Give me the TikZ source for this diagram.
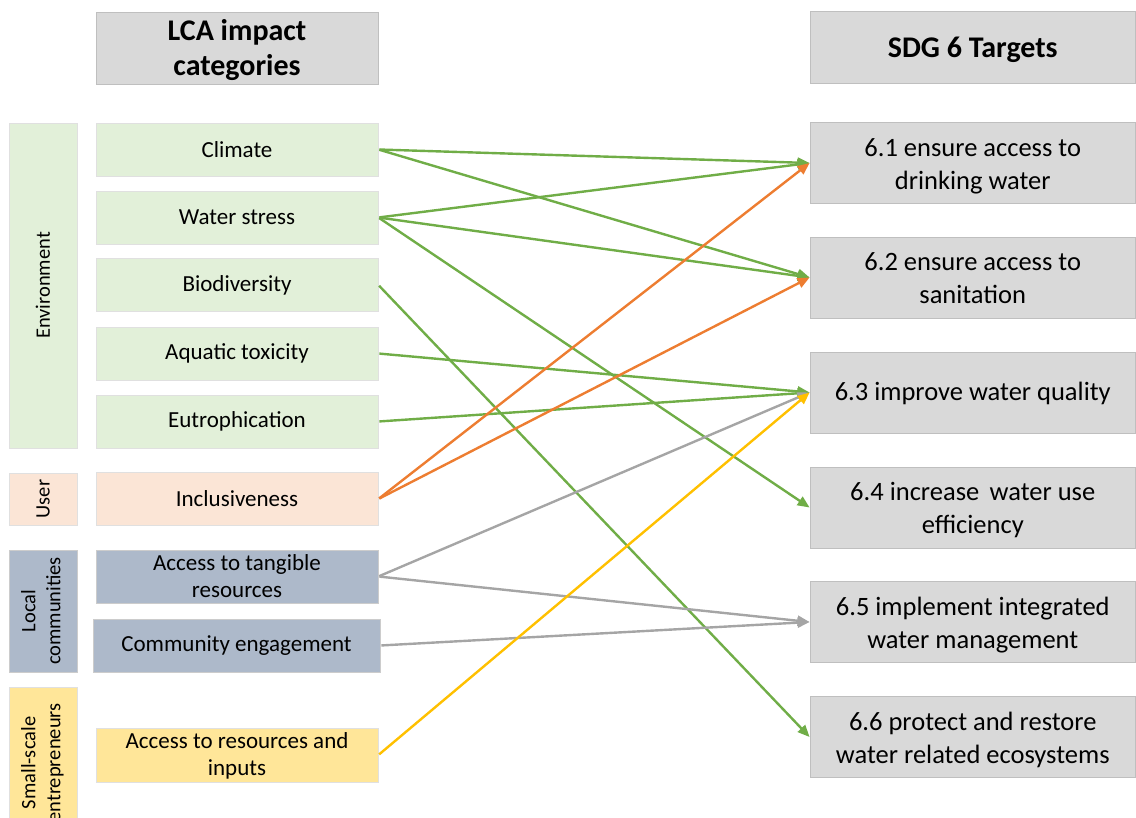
\documentclass[tikz,border=0pt]{standalone}
\usepackage{fontspec}
\setmainfont{Carlito}
\usetikzlibrary{arrows.meta}
\definecolor{grn}{HTML}{70AD47}
\definecolor{org}{HTML}{ED7D31}
\definecolor{gry}{HTML}{A5A5A5}
\definecolor{ylw}{HTML}{FFC000}
\definecolor{fgrn}{HTML}{E2F0D9}
\definecolor{forg}{HTML}{FBE5D6}
\definecolor{fblu}{HTML}{ADB9CA}
\definecolor{fylw}{HTML}{FFE699}
\definecolor{fgry}{HTML}{D9D9D9}
\newcommand{\dn}[2]{\raisebox{-#1}[\height][\depth]{\begin{tabular}{@{}c@{}}#2\end{tabular}}}
\begin{document}
\begin{tikzpicture}[x=1pt,y=-1pt,
  box/.style={rectangle,inner sep=0pt,align=center,line width=0.8pt},
  gbox/.style={box,fill=fgrn,draw=black!12},
  obox/.style={box,fill=forg,draw=black!12},
  bbox/.style={box,fill=fblu,draw=black!20},
  ybox/.style={box,fill=fylw,draw=black!12},
  hbox/.style={box,fill=fgry,draw=black!25},
  mid/.style={minimum width=282pt,minimum height=53pt,font=\fontsize{23}{27}\selectfont},
  tgt/.style={hbox,minimum width=325.5pt,minimum height=81pt,font=\fontsize{26.5}{33}\selectfont},
  head/.style={hbox,minimum height=72pt,font=\bfseries\fontsize{30}{36}\selectfont},
  cat/.style={minimum width=68pt,font=\fontsize{20.5}{25}\selectfont},
  arr/.style={line width=2.4pt,-{Triangle[length=12pt,width=10pt]},shorten <=1pt}
]
\useasboundingbox (0,0) rectangle (1136,818);
% headers
\node[head,minimum width=282pt] (hl) at (237,48) {\dn{3pt}{LCA impact\\[-1pt]categories}};
\node[head,minimum width=325.5pt] (hr) at (972.75,47.5) {\dn{3pt}{SDG 6 Targets}};
% category boxes
\node[gbox,cat,minimum height=325pt] (env) at (43,285.5) {\rotatebox{90}{Environment}};
\node[obox,cat,minimum height=52pt] (usr) at (43,499) {\rotatebox{90}{User}};
\node[bbox,cat,minimum height=122pt] (loc) at (43,611) {\rotatebox{90}{\begin{tabular}{c}Local\\communities\end{tabular}}};
\node[ybox,cat,minimum height=152pt] (sse) at (43,763) {\rotatebox{90}{\begin{tabular}{c}Small-scale\\entrepreneurs\end{tabular}}};
% impact categories
\node[gbox,mid] (clim) at (237,149.5) {Climate};
\node[gbox,mid] (ws) at (237,217.5) {Water stress};
\node[gbox,mid] (bio) at (237,285) {Biodiversity};
\node[gbox,mid] (aqu) at (237,353.5) {Aquatic toxicity};
\node[gbox,mid] (eut) at (237,421.5) {Eutrophication};
\node[obox,mid] (inc) at (237,499) {Inclusiveness};
\node[bbox,mid] (tang) at (237,576.5) {Access to tangible\\resources};
\node[bbox,mid,minimum width=287pt] (comm) at (236.5,645.5) {Community engagement};
\node[ybox,mid] (res) at (237,755) {\dn{2pt}{Access to resources and\\inputs}};
% targets
\node[tgt] (t1) at (972.75,163) {\dn{3pt}{6.1 ensure access to\\drinking water}};
\node[tgt] (t2) at (972.75,277.5) {\dn{3pt}{6.2 ensure access to\\sanitation}};
\node[tgt] (t3) at (972.75,392.5) {\dn{1pt}{6.3 improve water quality}};
\node[tgt] (t4) at (972.75,507.5) {\dn{3pt}{6.4 increase\, water use\\efficiency}};
\node[tgt] (t5) at (972.75,622) {\dn{3pt}{6.5 implement integrated\\water management}};
\node[tgt] (t6) at (972.75,737) {\dn{3pt}{6.6 protect and restore\\water related ecosystems}};
% connectors
\draw[arr,grn] (clim.east) -- (t1.west);
\draw[arr,grn] (clim.east) -- (t2.west);
\draw[arr,grn] (ws.east) -- (t1.west);
\draw[arr,grn] (ws.east) -- (t2.west);
\draw[arr,grn] (ws.east) -- (t4.west);
\draw[arr,grn] (bio.east) -- (t6.west);
\draw[arr,grn] (aqu.east) -- (t3.west);
\draw[arr,grn] (eut.east) -- (t3.west);
\draw[arr,gry] (tang.east) -- (t3.west);
\draw[arr,gry] (tang.east) -- (t5.west);
\draw[arr,gry] (comm.east) -- (t5.west);
\draw[arr,org] (inc.east) -- (t1.west);
\draw[arr,org] (inc.east) -- (t2.west);
\draw[arr,ylw] (res.east) -- (t3.west);
\end{tikzpicture}
\end{document}
